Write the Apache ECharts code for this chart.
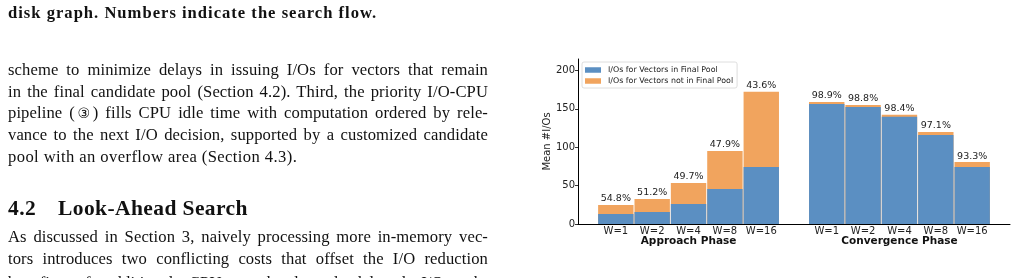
<!DOCTYPE html>
<html>
<head>
<meta charset="utf-8">
<script src="https://cdn.jsdelivr.net/npm/echarts@6/dist/echarts.min.js"></script>
<style>
  html, body { margin:0; padding:0; width:1017px; height:278px; overflow:hidden; background:#fff; }
  #chart { position:absolute; left:0; top:0; width:1017px; height:278px; }
  #text { position:absolute; left:8px; top:0; width:480px; font-family:"Liberation Serif", "DejaVu Serif", serif; color:#111; }
  .ln { position:absolute; left:0; width:480px; font-size:16.6px; line-height:20px; white-space:nowrap; letter-spacing:0.4px; }
  .j { text-align:justify; text-align-last:justify; white-space:normal; height:20px; overflow:hidden; letter-spacing:0.1px; }
  .b { font-weight:bold; letter-spacing:1px; }
  .h { font-size:21.5px; font-weight:bold; line-height:24px; letter-spacing:0.4px; }
  .c { font-family:"DejaVu Sans", sans-serif; font-size:14px; letter-spacing:0; }
</style>
</head>
<body>
<div id="chart"></div>
<div id="text">
  <div class="ln b" style="top:3px;">disk graph. Numbers indicate the search flow.</div>
  <div class="ln j" style="top:60px;">scheme to minimize delays in issuing I/Os for vectors that remain</div>
  <div class="ln j" style="top:81.7px;">in the final candidate pool (Section 4.2). Third, the priority I/O-CPU</div>
  <div class="ln j" style="top:103.3px;">pipeline (<span class="c">③</span>) fills CPU idle time with computation ordered by rele-</div>
  <div class="ln j" style="top:125px;">vance to the next I/O decision, supported by a customized candidate</div>
  <div class="ln" style="top:146.7px;">pool with an overflow area (Section 4.3).</div>
  <div class="ln h" style="top:196px;">4.2<span style="display:inline-block;width:22px;"></span>Look-Ahead Search</div>
  <div class="ln j" style="top:227px;">As discussed in Section 3, naively processing more in-memory vec-</div>
  <div class="ln j" style="top:248.7px;">tors introduces two conflicting costs that offset the I/O reduction</div>
  <div class="ln j" style="top:273.4px;">benefits of additional CPU overhead and delayed I/O sub-</div>
</div>
<script>
// ---- data ----
const windowLabels = ['W=1', 'W=2', 'W=4', 'W=8', 'W=16'];
const groupNames = ['Approach Phase', 'Convergence Phase'];
const seriesNames = ['I/Os for Vectors in Final Pool', 'I/Os for Vectors not in Final Pool'];
const approachInPool = [13.0, 15.7, 26.1, 45.7, 74.3];
const approachNotInPool = [11.8, 16.9, 27.4, 49.5, 97.9];
const convergenceInPool = [156.5, 152.6, 139.6, 116.1, 74.3];
const convergenceNotInPool = [2.5, 2.5, 2.6, 3.8, 6.4];
const approachPct = ['54.8%', '51.2%', '49.7%', '47.9%', '43.6%'];
const convergencePct = ['98.9%', '98.8%', '98.4%', '97.1%', '93.3%'];
const yTicks = [0, 50, 100, 150, 200];

// ---- layout (bar slots on a numeric axis, like the original plot) ----
const GROUP_GAP = 0.8;
const n = windowLabels.length;
const xPos = [];
const xLabel = {};
const groupCenters = [];
[0, 1].forEach(g => {
  const off = g * (n + GROUP_GAP);
  for (let i = 0; i < n; i++) {
    const x = +(off + i).toFixed(2);
    xPos.push(x);
    xLabel[x.toFixed(2)] = windowLabels[i];
  }
  groupCenters.push(+(off + (n - 1) / 2).toFixed(2));
});
const inPool = approachInPool.concat(convergenceInPool);
const notInPool = approachNotInPool.concat(convergenceNotInPool);
const pctLabels = approachPct.concat(convergencePct);
// stacked: the orange segment sits on the blue one, so its top is the total
const totals = inPool.map((v, i) => +(v + notInPool[i]).toFixed(2));

const BLUE = '#5b8fc2';
const ORANGE = '#f1a45e';
const FONT = 'DejaVu Sans';

const chart = echarts.init(document.getElementById('chart'), null, { renderer: 'canvas' });
chart.setOption({
  animation: false,
  backgroundColor: 'transparent',
  grid: { left: 578, right: 7, top: 59, bottom: 54, containLabel: false },
  legend: {
    orient: 'vertical', left: 582, top: 62,
    padding: [4, 4, 3, 3], itemGap: 3, itemWidth: 16, itemHeight: 5.5,
    icon: 'rect', borderColor: '#d6d6d6', borderWidth: 0.8, borderRadius: 2,
    backgroundColor: 'rgba(255,255,255,0.8)',
    textStyle: { fontFamily: FONT, fontSize: 7.9, color: '#222', padding: [0, 0, 0, 2], lineHeight: 8 },
    data: seriesNames
  },
  xAxis: [{
    type: 'value', min: -1.04, max: 10.84,
    axisLine: { show: true, onZero: false, lineStyle: { color: '#000', width: 1 } },
    axisTick: { show: false },
    splitLine: { show: false },
    axisLabel: {
      customValues: xPos, margin: 2,
      fontFamily: FONT, fontSize: 10, color: '#222',
      formatter: v => xLabel[(+v).toFixed(2)] || ''
    }
  }, {
    type: 'value', min: -1.04, max: 10.84, position: 'bottom',
    axisLine: { show: false, onZero: false }, axisTick: { show: false }, splitLine: { show: false },
    axisLabel: {
      customValues: groupCenters, margin: 12,
      fontFamily: FONT, fontSize: 10.5, fontWeight: 'bold', color: '#111',
      formatter: v => groupNames[groupCenters.indexOf(+(+v).toFixed(2))] || ''
    }
  }],
  yAxis: {
    type: 'value', min: 0, max: 215,
    name: 'Mean #I/Os', nameLocation: 'middle', nameGap: 26, nameRotate: 90,
    nameTextStyle: { fontFamily: FONT, fontSize: 10, color: '#222' },
    axisLine: { show: true, onZero: false, lineStyle: { color: '#000', width: 1 } },
    axisTick: { show: true, length: 3, customValues: yTicks, lineStyle: { color: '#000', width: 0.8 } },
    splitLine: { show: false },
    axisLabel: { customValues: yTicks, margin: 3, fontFamily: FONT, fontSize: 10, color: '#222' }
  },
  series: [{
    name: seriesNames[1], type: 'bar', barWidth: 35.4, barGap: '-100%', z: 2,
    itemStyle: { color: ORANGE },
    label: {
      show: true, position: 'top', distance: 1,
      fontFamily: FONT, fontSize: 9.5, color: '#222',
      formatter: p => pctLabels[p.dataIndex]
    },
    data: xPos.map((x, i) => [x, totals[i]])
  }, {
    name: seriesNames[0], type: 'bar', barWidth: 35.4, barGap: '-100%', z: 3,
    itemStyle: { color: BLUE },
    data: xPos.map((x, i) => [x, inPool[i]])
  }]
});
</script>
</body>
</html>
